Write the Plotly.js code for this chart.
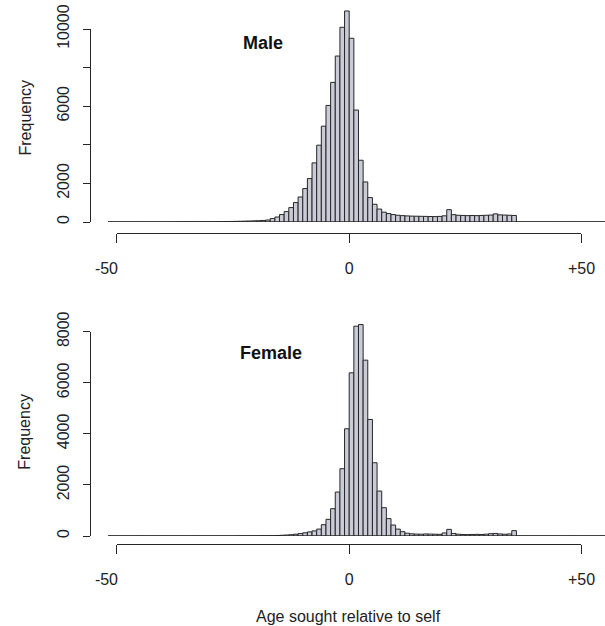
<!DOCTYPE html>
<html>
<head>
<meta charset="utf-8">
<script src="https://cdn.plot.ly/plotly-3.0.1.min.js"></script>
<style>html,body{margin:0;padding:0;background:#fff;}#chart{width:605px;height:626px;}</style>
</head>
<body>
<div id="chart"></div>
<script>
// ---- data ----
const binStart = -52;           // left edge of first 1-year bin
const binWidth = 1;
// counts per bin, bins [-52,-51) ... [55,56)
const maleCounts = [
  0,0,0,0,0,0,0,0,0,0,0,0,                 // -52..-41
  2,3,3,4,5,6,7,8,10,12,                   // -40..-31
  14,17,20,24,28,33,38,45,52,60,           // -30..-21
  68,80,104,176,259,384,540,747,1006,1297, // -20..-11
  1733,2252,3062,3980,4966,6040,7234,8599,10088,10934, // -10..-1
  9520,5800,3200,2075,1266,918,670,510,436,384,        // 0..9
  350,330,315,305,300,295,290,285,280,290,             // 10..19
  320,640,380,350,340,330,335,330,340,350,             // 20..29
  360,420,370,360,350,340,                             // 30..35
  0,0,0,0,0,0,0,0,0,0,0,0,0,0,0,0,0,0,0,0              // 36..55
];
const femaleCounts = [
  0,0,0,0,0,0,0,0,0,0,0,0,0,0,0,0,0,0,0,0,0,0,0,0,0,0,0,0, // -52..-25
  3,4,5,6,8,10,12,15,20,28,                // -24..-15
  38,50,70,95,125,160,200,270,443,652,     // -14..-5
  1069,1721,2634,4199,                     // -4..-1
  6390,8215,8280,6885,4564,2869,1760,1108,680,430,     // 0..9
  270,170,110,85,75,70,80,75,70,65,                    // 10..19
  120,260,100,70,60,55,60,65,60,70,                    // 20..29
  90,100,80,70,80,210,                                 // 30..35
  0,0,0,0,0,0,0,0,0,0,0,0,0,0,0,0,0,0,0,0              // 36..55
];
const xTickVals = [-50, 0, 50];
// the "-50" label sits left of its tick in the reference; figure spaces keep that offset
const xTickText = ['-50\u2007\u2007\u2009', '0', '+50'];
const maleYTickVals = [0, 2000, 4000, 6000, 8000, 10000];
const maleYTickText = ['0', '2000', '', '6000', '', '10000'];
const femaleYTickVals = [0, 2000, 4000, 6000, 8000];
const femaleYTickText = ['0', '2000', '4000', '6000', '8000'];
const panelLabels = ['Male', 'Female'];
const yTitle = 'Frequency';
const xTitle = 'Age sought relative to self';

// ---- derived ----
const centers = maleCounts.map((_, i) => binStart + binWidth * (i + 0.5));
const firstEdge = binStart;
const lastEdge = binStart + binWidth * maleCounts.length;

const W = 605, H = 626;
const px = v => v / W;            // pixel x -> paper
const py = v => 1 - v / H;        // pixel y -> paper

const ink = '#262626';
const fill = '#c9ccd7';
const font = {family: 'Liberation Sans, Arial, sans-serif', size: 16, color: '#222'};

function barTrace(counts, xa, ya) {
  return {
    type: 'bar', x: centers, y: counts, width: binWidth,
    xaxis: xa, yaxis: ya,
    marker: {color: fill, line: {color: ink, width: 1}},
    hoverinfo: 'x+y', showlegend: false
  };
}
function baseTrace(xa, ya) {
  return {
    type: 'scatter', mode: 'lines', x: [firstEdge, lastEdge], y: [0, 0],
    xaxis: xa, yaxis: ya, line: {color: ink, width: 1.2},
    hoverinfo: 'skip', showlegend: false
  };
}
// same counts on the display (tick) axes, drawn fully transparent so the axes exist
function ghostTrace(counts, xa, ya) {
  return {
    type: 'scatter', mode: 'markers', x: centers, y: counts,
    xaxis: xa, yaxis: ya, marker: {opacity: 0, size: 1},
    cliponaxis: true, hoverinfo: 'skip', showlegend: false
  };
}

const data = [
  ghostTrace(maleCounts, 'x3', 'y3'), ghostTrace(femaleCounts, 'x4', 'y4'),
  baseTrace('x', 'y'), barTrace(maleCounts, 'x', 'y'),
  baseTrace('x2', 'y2'), barTrace(femaleCounts, 'x2', 'y2')
];

// scales (px per unit)
const xZero = 349.2, xScale = 4.645;
const xRange = [(108 - xZero) / xScale, (W - xZero) / xScale];

const hidden = {visible: false, fixedrange: true};
function tickX(posPix) {
  return {
    domain: [px(xZero - 50 * xScale), px(xZero + 50 * xScale)],
    range: [-50, 50], anchor: 'free', position: py(posPix),
    tickmode: 'array', tickvals: xTickVals, ticktext: xTickText,
    ticks: 'outside', ticklen: 9, tickwidth: 1, tickcolor: ink,
    showline: true, linecolor: ink, linewidth: 1,
    showgrid: false, zeroline: false, fixedrange: true,
    tickfont: font, ticklabelstandoff: 11
  };
}
function tickY(topPix, basePix, maxVal, vals, text) {
  return {
    domain: [py(basePix), py(topPix)],
    range: [0, maxVal], anchor: 'free', position: px(90),
    tickmode: 'array', tickvals: vals, ticktext: text, tickangle: -90,
    ticks: 'outside', ticklen: 7, tickwidth: 1, tickcolor: ink,
    showline: true, linecolor: ink, linewidth: 1,
    showgrid: false, zeroline: false, fixedrange: true,
    tickfont: font, ticklabelstandoff: 8
  };
}

// male panel: baseline 222px, 10000 at 29px ; female: baseline 536px, 8000 at 331.7px
const mBase = 222, mTop = 29, fBase = 536, fTop = 331.7;
const mPerPx = 10000 / (mBase - mTop);
const fPerPx = 8000 / (fBase - fTop);

const layout = {
  width: W, height: H,
  margin: {l: 0, r: 0, t: 0, b: 0},
  paper_bgcolor: '#fff', plot_bgcolor: 'rgba(0,0,0,0)',
  bargap: 0, showlegend: false,
  font: font,
  xaxis: Object.assign({domain: [px(108), 1], range: xRange, anchor: 'y'}, hidden),
  yaxis: Object.assign({domain: [py(mBase), 1], range: [0, mBase * mPerPx], anchor: 'x'}, hidden),
  xaxis2: Object.assign({domain: [px(108), 1], range: xRange, anchor: 'y2'}, hidden),
  yaxis2: Object.assign({domain: [py(fBase), py(300)], range: [0, (fBase - 300) * fPerPx], anchor: 'x2'}, hidden),
  xaxis3: tickX(233.3),
  xaxis4: tickX(544.3),
  yaxis3: tickY(mTop, mBase, 10000, maleYTickVals, maleYTickText),
  yaxis4: tickY(fTop, fBase, 8000, femaleYTickVals, femaleYTickText),
  annotations: [
    {text: '<b>' + panelLabels[0] + '</b>', x: px(263), y: py(42.7), xref: 'paper', yref: 'paper',
     showarrow: false, xanchor: 'center', yanchor: 'middle',
     font: {family: font.family, size: 18, color: '#111'}},
    {text: '<b>' + panelLabels[1] + '</b>', x: px(271.3), y: py(353.3), xref: 'paper', yref: 'paper',
     showarrow: false, xanchor: 'center', yanchor: 'middle',
     font: {family: font.family, size: 18, color: '#111'}},
    {text: yTitle, x: px(25), y: py(117.5), xref: 'paper', yref: 'paper', textangle: -90,
     showarrow: false, xanchor: 'center', yanchor: 'middle', font: font},
    {text: yTitle, x: px(25), y: py(431.7), xref: 'paper', yref: 'paper', textangle: -90,
     showarrow: false, xanchor: 'center', yanchor: 'middle', font: font},
    {text: xTitle, x: px(348.8), y: py(616), xref: 'paper', yref: 'paper',
     showarrow: false, xanchor: 'center', yanchor: 'middle', font: font}
  ]
};

Plotly.newPlot('chart', data, layout, {staticPlot: true, displayModeBar: false});
</script>
</body>
</html>
